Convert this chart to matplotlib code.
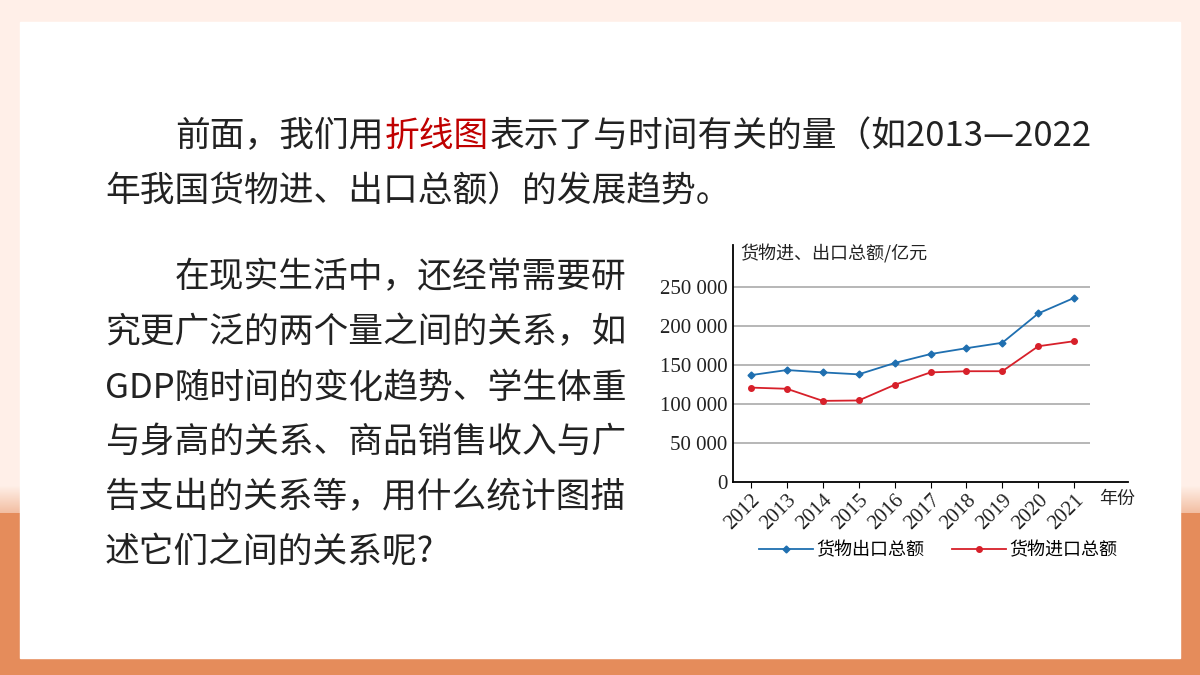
import numpy as np
import matplotlib.pyplot as plt
from matplotlib.patches import Rectangle

plt.rcParams['font.family'] = ['Noto Sans CJK SC', 'DejaVu Sans']

years = [2012, 2013, 2014, 2015, 2016, 2017, 2018, 2019, 2020, 2021]
exports = [137000, 143500, 140500, 138000, 152500, 164000, 171500, 178500, 216000, 236000]
imports = [121000, 119500, 104000, 104500, 124500, 140500, 142000, 142000, 174000, 180500]
yticks = [0, 50000, 100000, 150000, 200000, 250000]
ytick_labels = ['0', '50 000', '100 000', '150 000', '200 000', '250 000']

fig = plt.figure(figsize=(12, 6.75), dpi=100)

# background: peach to orange, white card on top
bg = fig.add_axes([0, 0, 1, 1])
grad = np.linspace(0, 1, 675).reshape(-1, 1)
top = np.array([1.0, 0.94, 0.91])
bot = np.array([0.90, 0.55, 0.36])
w = np.clip((grad - 0.72) / 0.08, 0, 1)
w[int(675 * 0.76):] = 1
img = top * (1 - w[..., None]) + bot * w[..., None]
img = np.repeat(img, 2, axis=1)
bg.imshow(img, aspect='auto', extent=[0, 1, 0, 1], origin='upper')
bg.add_patch(Rectangle((20 / 1200, 1 - 658 / 675), 1160 / 1200, 636 / 675,
                       color='white', zorder=2))
bg.set_xlim(0, 1)
bg.set_ylim(0, 1)
bg.axis('off')

# body text
fs = 25
def tx(x, y, s, c='#222222'):
    fig.text(x / 1200, 1 - y / 675, s, fontsize=fs, color=c, va='center', ha='left')

tx(175, 137, '前面，我们用')
tx(385, 137, '折线图', c='#c00000')
tx(490, 137, '表示了与时间有关的量（如2013—2022')
tx(105, 192, '年我国货物进、出口总额）的发展趋势。')
para = ['在现实生活中，还经常需要研',
        '究更广泛的两个量之间的关系，如',
        'GDP随时间的变化趋势、学生体重',
        '与身高的关系、商品销售收入与广',
        '告支出的关系等，用什么统计图描',
        '述它们之间的关系呢?']
for i, s in enumerate(para):
    tx(175 if i == 0 else 105, 278 + i * 54.8, s)

# chart
ax = fig.add_axes([733 / 1200, 1 - 482 / 675, 395 / 1200, 237 / 675])
ax.set_xlim(2011.5, 2022.5)
ax.set_ylim(0, 303800)
ax.hlines(yticks[1:], 2011.5, 2021.45, color='#aaaaaa', lw=1.2, zorder=1)
ax.plot(years, exports, color='#1f6fb0', marker='D', ms=3.5, lw=1.3, label='货物出口总额')
ax.plot(years, imports, color='#d7202a', marker='o', ms=4, lw=1.3, label='货物进口总额')
for s in ['top', 'right']:
    ax.spines[s].set_visible(False)
for s in ['left', 'bottom']:
    ax.spines[s].set_linewidth(1.3)
ax.set_yticks(yticks)
ax.set_yticklabels(ytick_labels, family='Liberation Serif', fontsize=15, color='#222222')
ax.tick_params(axis='y', length=0, pad=4)
ax.set_xticks(years)
ax.set_xticklabels([str(y) for y in years], rotation=45, ha='right', rotation_mode='anchor',
                   family='Liberation Serif', fontsize=15, color='#222222')
ax.tick_params(axis='x', direction='out', length=4, pad=2)
ax.text(2011.7, 292000, '货物进、出口总额/亿元', fontsize=13, color='#222222', va='center')
ax.text(2021.7, -22000, '年份', fontsize=13, color='#222222', va='center')
fig.legend(loc='center', bbox_to_anchor=(938 / 1200, 1 - 550 / 675), ncol=2,
           frameon=False, fontsize=13, handlelength=3, columnspacing=1.5, handletextpad=0.2)

plt.savefig('out.png')
